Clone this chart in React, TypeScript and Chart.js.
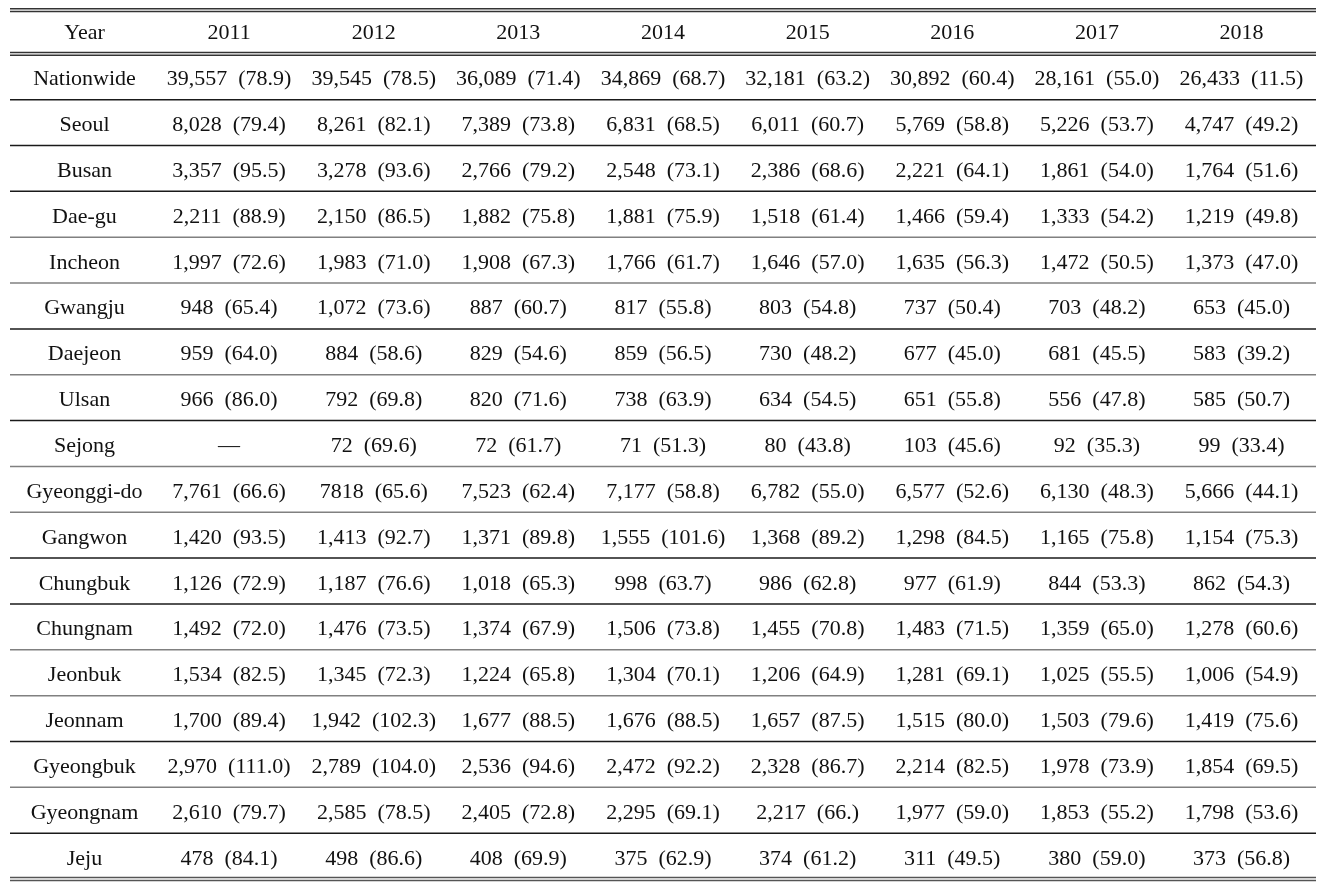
import React, { useEffect, useRef } from "react";
import { Chart, registerables } from "chart.js";

Chart.register(...registerables);

const headerLabel = "Year";
const years = ["2011", "2012", "2013", "2014", "2015", "2016", "2017", "2018"];
const regions = [
  "Nationwide", "Seoul", "Busan", "Dae-gu", "Incheon", "Gwangju", "Daejeon", "Ulsan", "Sejong",
  "Gyeonggi-do", "Gangwon", "Chungbuk", "Chungnam", "Jeonbuk", "Jeonnam", "Gyeongbuk", "Gyeongnam", "Jeju",
];

const cells2011 = ["39,557 (78.9)", "8,028 (79.4)", "3,357 (95.5)", "2,211 (88.9)", "1,997 (72.6)", "948 (65.4)", "959 (64.0)", "966 (86.0)", "—", "7,761 (66.6)", "1,420 (93.5)", "1,126 (72.9)", "1,492 (72.0)", "1,534 (82.5)", "1,700 (89.4)", "2,970 (111.0)", "2,610 (79.7)", "478 (84.1)"];
const cells2012 = ["39,545 (78.5)", "8,261 (82.1)", "3,278 (93.6)", "2,150 (86.5)", "1,983 (71.0)", "1,072 (73.6)", "884 (58.6)", "792 (69.8)", "72 (69.6)", "7818 (65.6)", "1,413 (92.7)", "1,187 (76.6)", "1,476 (73.5)", "1,345 (72.3)", "1,942 (102.3)", "2,789 (104.0)", "2,585 (78.5)", "498 (86.6)"];
const cells2013 = ["36,089 (71.4)", "7,389 (73.8)", "2,766 (79.2)", "1,882 (75.8)", "1,908 (67.3)", "887 (60.7)", "829 (54.6)", "820 (71.6)", "72 (61.7)", "7,523 (62.4)", "1,371 (89.8)", "1,018 (65.3)", "1,374 (67.9)", "1,224 (65.8)", "1,677 (88.5)", "2,536 (94.6)", "2,405 (72.8)", "408 (69.9)"];
const cells2014 = ["34,869 (68.7)", "6,831 (68.5)", "2,548 (73.1)", "1,881 (75.9)", "1,766 (61.7)", "817 (55.8)", "859 (56.5)", "738 (63.9)", "71 (51.3)", "7,177 (58.8)", "1,555 (101.6)", "998 (63.7)", "1,506 (73.8)", "1,304 (70.1)", "1,676 (88.5)", "2,472 (92.2)", "2,295 (69.1)", "375 (62.9)"];
const cells2015 = ["32,181 (63.2)", "6,011 (60.7)", "2,386 (68.6)", "1,518 (61.4)", "1,646 (57.0)", "803 (54.8)", "730 (48.2)", "634 (54.5)", "80 (43.8)", "6,782 (55.0)", "1,368 (89.2)", "986 (62.8)", "1,455 (70.8)", "1,206 (64.9)", "1,657 (87.5)", "2,328 (86.7)", "2,217 (66.)", "374 (61.2)"];
const cells2016 = ["30,892 (60.4)", "5,769 (58.8)", "2,221 (64.1)", "1,466 (59.4)", "1,635 (56.3)", "737 (50.4)", "677 (45.0)", "651 (55.8)", "103 (45.6)", "6,577 (52.6)", "1,298 (84.5)", "977 (61.9)", "1,483 (71.5)", "1,281 (69.1)", "1,515 (80.0)", "2,214 (82.5)", "1,977 (59.0)", "311 (49.5)"];
const cells2017 = ["28,161 (55.0)", "5,226 (53.7)", "1,861 (54.0)", "1,333 (54.2)", "1,472 (50.5)", "703 (48.2)", "681 (45.5)", "556 (47.8)", "92 (35.3)", "6,130 (48.3)", "1,165 (75.8)", "844 (53.3)", "1,359 (65.0)", "1,025 (55.5)", "1,503 (79.6)", "1,978 (73.9)", "1,853 (55.2)", "380 (59.0)"];
const cells2018 = ["26,433 (11.5)", "4,747 (49.2)", "1,764 (51.6)", "1,219 (49.8)", "1,373 (47.0)", "653 (45.0)", "583 (39.2)", "585 (50.7)", "99 (33.4)", "5,666 (44.1)", "1,154 (75.3)", "862 (54.3)", "1,278 (60.6)", "1,006 (54.9)", "1,419 (75.6)", "1,854 (69.5)", "1,798 (53.6)", "373 (56.8)"];

const columns = [cells2011, cells2012, cells2013, cells2014, cells2015, cells2016, cells2017, cells2018];

// rule colours after each body row (scan shading)
const DARK = "#1a1a1a";
const GREY = "#808080";
const separatorColors = [DARK, DARK, DARK, GREY, GREY, DARK, GREY, DARK, GREY, GREY, DARK, DARK, GREY, GREY, DARK, GREY, DARK];

const FONT = '22px "Liberation Serif", "Times New Roman", serif';

const tablePlugin = {
  id: "tableText",
  afterDatasetsDraw(chart: any) {
    const ctx = chart.ctx;
    const { left, right } = chart.chartArea;
    const ys = chart.scales.y;
    const nRows = regions.length;

    const hline = (y: number, color: string, w = 1.5) => {
      ctx.beginPath();
      ctx.strokeStyle = color;
      ctx.lineWidth = w;
      ctx.moveTo(left, y);
      ctx.lineTo(right, y);
      ctx.stroke();
    };

    ctx.save();
    // top double rule
    const top = ys.getPixelForValue(-0.5);
    hline(top + 0.75, "#333");
    hline(top + 3.5, "#333");
    // header double rule
    const hb = ys.getPixelForValue(0.5);
    hline(hb - 1.4, "#333");
    hline(hb + 1.4, "#333");
    // row separators
    for (let r = 1; r < nRows; r++) {
      hline(ys.getPixelForValue(r + 0.5), separatorColors[r - 1] || DARK);
    }
    // bottom double rule
    const bot = ys.getPixelForValue(nRows + 0.5);
    hline(bot - 1.5, "#555");
    hline(bot + 1.5, "#555");

    // text
    ctx.fillStyle = "#111";
    ctx.font = FONT;
    ctx.textAlign = "center";
    ctx.textBaseline = "alphabetic";
    chart.data.datasets.forEach((ds: any, di: number) => {
      const meta = chart.getDatasetMeta(di);
      meta.data.forEach((el: any, i: number) => {
        const t = String(ds.data[i].t).replace(" (", "\u00a0\u00a0(");
        ctx.fillText(t, el.x, el.y + 8.5);
      });
    });
    ctx.restore();
  },
};

export default function App() {
  const ref = useRef<HTMLCanvasElement | null>(null);

  useEffect(() => {
    if (!ref.current) return;
    const headerData = [{ x: 0, y: 0, t: headerLabel }, ...years.map((yr, i) => ({ x: i + 1, y: 0, t: yr }))];
    const labelData = regions.map((r, i) => ({ x: 0, y: i + 1, t: r }));
    const cellData = columns.flatMap((col, c) => col.map((s, r) => ({ x: c + 1, y: r + 1, t: s })));

    const chart = new Chart(ref.current, {
      type: "scatter",
      data: {
        datasets: [
          { label: "header", data: headerData as any, pointRadius: 0, pointHoverRadius: 0 },
          { label: "regions", data: labelData as any, pointRadius: 0, pointHoverRadius: 0 },
          { label: "cells", data: cellData as any, pointRadius: 0, pointHoverRadius: 0 },
        ],
      },
      options: {
        responsive: false,
        animation: false,
        events: [],
        layout: { padding: { left: 10, right: 20, top: 8, bottom: 4 } },
        plugins: { legend: { display: false }, tooltip: { enabled: false }, title: { display: false } },
        scales: {
          x: { type: "linear", min: -0.515, max: 8.515, display: false },
          y: { type: "linear", min: -0.5, max: 18.5, reverse: true, display: false },
        },
      },
      plugins: [tablePlugin],
    });
    return () => chart.destroy();
  }, []);

  return (
    <div style={{ position: "fixed", left: 0, top: 0, width: 1336, height: 883, background: "#fff" }}>
      <canvas ref={ref} width={1336} height={883} style={{ display: "block" }} />
    </div>
  );
}
